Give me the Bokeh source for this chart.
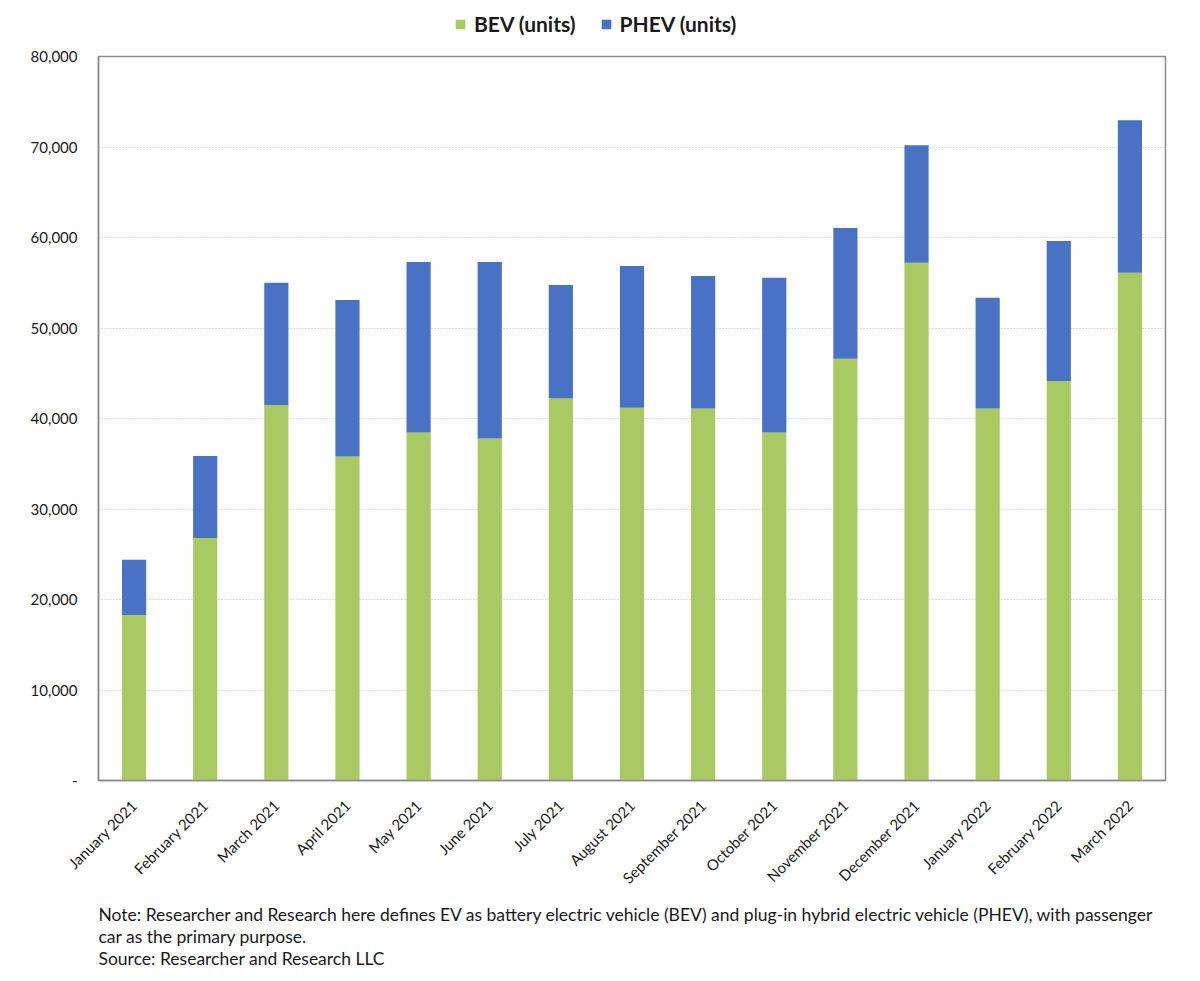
from bokeh.plotting import figure
from bokeh.layouts import column
from bokeh.models import Legend, LegendItem, FixedTicker, NumeralTickFormatter, Range1d, Label, ColumnDataSource
from bokeh.embed import file_html
from bokeh.resources import INLINE
import math

months = ["January 2021", "February 2021", "March 2021", "April 2021", "May 2021", "June 2021",
          "July 2021", "August 2021", "September 2021", "October 2021", "November 2021",
          "December 2021", "January 2022", "February 2022", "March 2022"]
bev = [18300, 26800, 41500, 35800, 38450, 37800, 42200, 41200, 41100, 38450, 46600, 57200, 41100, 44150, 56100]
phev = [6100, 9050, 13500, 17300, 18850, 19500, 12550, 15650, 14650, 17100, 14450, 13000, 12250, 15450, 16850]
yticks = [0, 10000, 20000, 30000, 40000, 50000, 60000, 70000, 80000]
series_names = ["BEV (units)", "PHEV (units)"]
notes = ["Note:  Researcher and Research here defines EV as battery electric vehicle (BEV) and plug-in hybrid electric vehicle (PHEV), with passenger",
         "car as the primary purpose.",
         "Source: Researcher and Research LLC"]

GREEN = "#A9CA63"
BLUE = "#4A72C4"
FONT = "Lato"
W = 1195

src = ColumnDataSource(dict(month=months, bev=bev, phev=phev))


def bare(height):
    f = figure(x_range=months, y_range=Range1d(0, 80000), width=W, height=height,
               output_backend="svg", toolbar_location=None, x_axis_type=None, y_axis_type=None,
               min_border=0)
    f.outline_line_color = None
    f.grid.grid_line_color = None
    return f


# ---- legend strip (renderers hidden; only their legend swatches show) ----
lg = bare(48)
lr = lg.vbar_stack(["bev", "phev"], x="month", width=0.34, source=src, color=[GREEN, BLUE], line_color=None)
for rr in lr:
    rr.visible = False
legend = Legend(items=[LegendItem(label=series_names[0], renderers=[lr[0]]),
                       LegendItem(label=series_names[1], renderers=[lr[1]])],
                orientation="horizontal", location=(356, 12),
                label_text_font=FONT, label_text_font_style="bold", label_text_font_size="21px",
                label_text_color="#1A1A1A", glyph_width=12, glyph_height=12,
                spacing=24, padding=4, margin=0, border_line_color=None,
                background_fill_alpha=0, label_standoff=8,
                inactive_fill_alpha=0, click_policy="none")
lg.add_layout(legend, "center")

# ---- main chart ----
p = figure(x_range=months, y_range=Range1d(0, 80000), width=W, height=848,
           output_backend="svg", toolbar_location=None,
           min_border_left=98, min_border_right=30, min_border_top=8, min_border_bottom=115)

p.vbar_stack(["bev", "phev"], x="month", width=0.34, source=src, color=[GREEN, BLUE], line_color=None)

p.outline_line_color = "#8C8C8C"
p.outline_line_width = 1.5
p.xgrid.grid_line_color = None
p.ygrid.grid_line_color = "#BFBFBF"
p.ygrid.grid_line_dash = "1 2"
p.ygrid.grid_line_width = 1

p.yaxis.ticker = FixedTicker(ticks=yticks)
p.yaxis.formatter = NumeralTickFormatter(format="0,0")
p.yaxis.major_label_overrides = {0: "-"}
for ax in (p.xaxis, p.yaxis):
    ax.axis_line_color = "#8C8C8C"
    ax.axis_line_width = 1.5
    ax.major_tick_line_color = None
    ax.minor_tick_line_color = None
    ax.major_label_text_font = FONT
    ax.major_label_text_color = "#1A1A1A"
p.yaxis.major_label_text_font_size = "15px"
p.yaxis.major_label_standoff = 15
p.xaxis.major_label_text_font_size = "15px"
p.xaxis.major_label_orientation = math.pi / 4
p.xaxis.major_label_standoff = 16

# ---- notes strip ----
nt = bare(80)
for i, t in enumerate(notes):
    nt.add_layout(Label(x=0, y=62 - 22 * i, x_units="screen", y_units="screen", text=t,
                        text_font=FONT, text_font_size="17.5px", text_color="#1A1A1A",
                        text_baseline="middle"))

layout = column(lg, p, nt, spacing=0)
open("out.html", "w").write(file_html(layout, INLINE))
